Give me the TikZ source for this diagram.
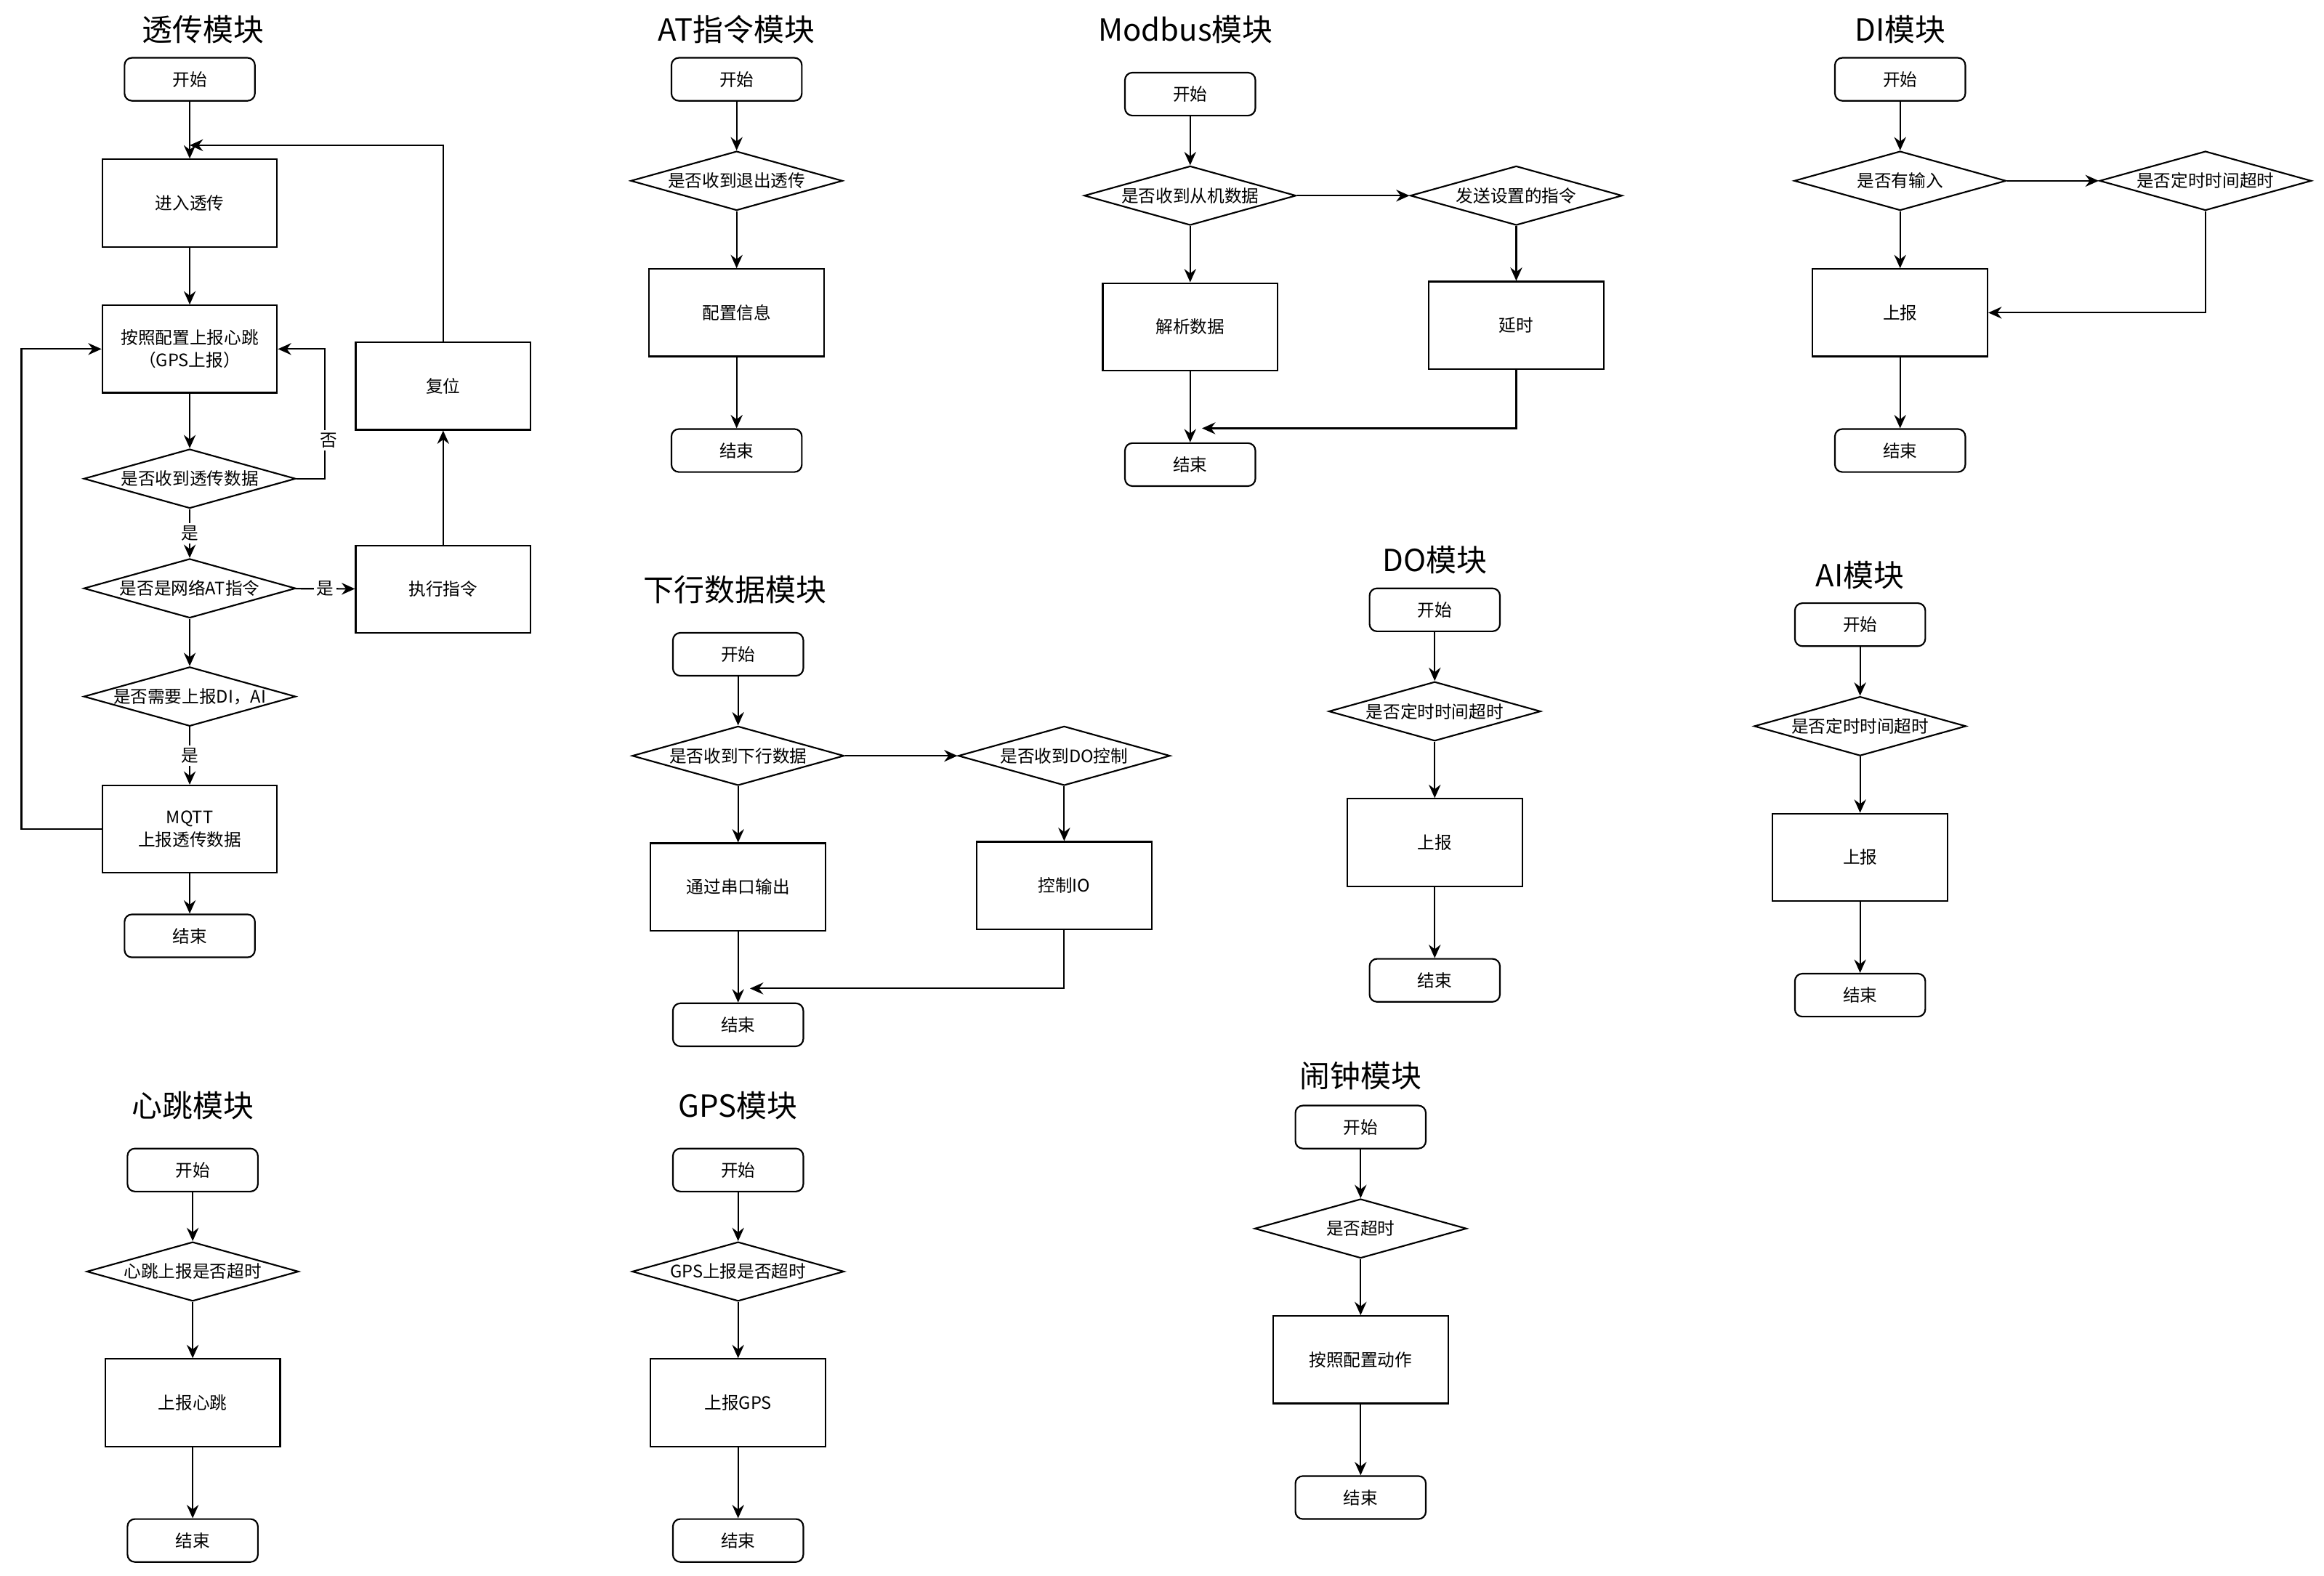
\documentclass[tikz,border=0pt]{standalone}
\usepackage{fontspec}
\setmainfont{Noto Sans CJK SC}
\usepackage{tikz}
\usetikzlibrary{shapes.geometric,arrows.meta,positioning}
\newcommand{\nw}[1]{\makebox[0pt]{#1}}

\begin{document}
\begin{tikzpicture}[x=0.02cm,y=-0.02cm,line width=0.6pt,
	ttl/.style={font=\fontsize{11.7pt}{14pt}\selectfont},
	term/.style={draw,rounded corners=0.1cm,minimum width=1.76cm,minimum height=0.58cm,font=\fontsize{6.6pt}{8pt}\selectfont},
	proc/.style={draw,minimum width=2.36cm,minimum height=1.18cm,align=center,font=\fontsize{6.6pt}{8.6pt}\selectfont},
	dec/.style={draw,diamond,aspect=3.5,inner sep=0pt,minimum width=2.86cm,minimum height=0.8cm,font=\fontsize{6.6pt}{8pt}\selectfont},
	lbl/.style={fill=white,inner sep=1pt,font=\fontsize{6.6pt}{8pt}\selectfont},
	arr/.style={-{Stealth[length=1.8mm,width=1.6mm,inset=0.6mm]}}]
	\useasboundingbox (0,0) rectangle (1568,1063);

	% 透传模块
	\node[ttl] (tt0) at (137,20) {透传模块};
	\node[term] (ts) at (128,53.5) {开始};
	\node[proc] (tin) at (128,137) {进入透传};
	\node[proc] (thb) at (128,235.5) {按照配置上报心跳\\（GPS上报）};
	\node[dec] (td1) at (128,323) {\nw{是否收到透传数据}};
	\node[dec] (td2) at (128,397) {\nw{是否是网络AT指令}};
	\node[dec] (td3) at (128,470) {\nw{是否需要上报DI，AI}};
	\node[proc] (tmq) at (128,559.5) {MQTT\\上报透传数据};
	\node[term] (te) at (128,631.5) {结束};
	\node[proc] (tex) at (299,397.5) {执行指令};
	\node[proc] (trs) at (299,260.5) {复位};
	\coordinate (tj) at (128,98);
	\draw[arr] (ts) -- (tin);
	\draw[arr] (tin) -- (thb);
	\draw[arr] (thb) -- (td1);
	\draw[arr] (td1) -- node[lbl] (ty1) {是} (td2);
	\draw[arr] (td2) -- (td3);
	\draw[arr] (td3) -- node[lbl] (ty2) {是} (tmq);
	\draw[arr] (tmq) -- (te);
	\draw[arr] (td2) -- node[lbl] (ty3) {是} (tex);
	\draw[arr] (tex) -- (trs);
	\draw[arr] (trs.north) |- (tj);
	\draw[arr] (td1.east) -- ++(19,0) |- (thb.east);
	\node[lbl] (tno) at (222,297) {否};
	\draw[arr] (tmq.west) -- ++(-54,0) |- (thb.west);

	% AT指令模块
	\node[ttl] (at0) at (497,20) {AT指令模块};
	\node[term] (as) at (497,53.5) {开始};
	\node[dec] (ad) at (497,122) {\nw{是否收到退出透传}};
	\node[proc] (ac) at (497,211) {配置信息};
	\node[term] (ae) at (497,304) {结束};
	\draw[arr] (as) -- (ad);
	\draw[arr] (ad) -- (ac);
	\draw[arr] (ac) -- (ae);

	% Modbus模块
	\node[ttl] (mb0) at (800,20) {Modbus模块};
	\node[term] (ms) at (803,63.5) {开始};
	\node[dec] (md1) at (803,132) {\nw{是否收到从机数据}};
	\node[dec] (md2) at (1023,132) {\nw{发送设置的指令}};
	\node[proc] (mp) at (803,220.5) {解析数据};
	\node[proc] (mw) at (1023,219.5) {延时};
	\node[term] (me) at (803,313.5) {结束};
	\coordinate (mj) at (811,289);
	\draw[arr] (ms) -- (md1);
	\draw[arr] (md1) -- (mp);
	\draw[arr] (mp) -- (me);
	\draw[arr] (md1) -- (md2);
	\draw[arr] (md2) -- (mw);
	\draw[arr] (mw.south) |- (mj);

	% DI模块
	\node[ttl] (di0) at (1282,20) {DI模块};
	\node[term] (ds) at (1282,53.5) {开始};
	\node[dec] (dd1) at (1282,122) {\nw{是否有输入}};
	\node[dec] (dd2) at (1488,122) {\nw{是否定时时间超时}};
	\node[proc] (dr) at (1282,211) {上报};
	\node[term] (de) at (1282,304) {结束};
	\draw[arr] (ds) -- (dd1);
	\draw[arr] (dd1) -- (dr);
	\draw[arr] (dr) -- (de);
	\draw[arr] (dd1) -- (dd2);
	\draw[arr] (dd2.south) |- (dr.east);

	% 下行数据模块
	\node[ttl] (xx0) at (496,398) {下行数据模块};
	\node[term] (xs) at (498,441.5) {开始};
	\node[dec] (xd1) at (498,510) {\nw{是否收到下行数据}};
	\node[dec] (xd2) at (718,510) {\nw{是否收到DO控制}};
	\node[proc] (xo) at (498,598.5) {通过串口输出};
	\node[proc] (xio) at (718,597.5) {控制IO};
	\node[term] (xe) at (498,691.5) {结束};
	\coordinate (xj) at (506,667);
	\draw[arr] (xs) -- (xd1);
	\draw[arr] (xd1) -- (xo);
	\draw[arr] (xo) -- (xe);
	\draw[arr] (xd1) -- (xd2);
	\draw[arr] (xd2) -- (xio);
	\draw[arr] (xio.south) |- (xj);

	% DO, AI, 心跳, GPS, 闹钟
	\foreach \n/\x/\y/\ty/\ti/\q/\r in {do/968/411.5/378/DO模块/是否定时时间超时/上报,
		ai/1255/421.5/388/AI模块/是否定时时间超时/上报,
		hb/130/789.5/746/心跳模块/心跳上报是否超时/上报心跳,
		gp/498/789.5/746/GPS模块/GPS上报是否超时/上报GPS,
		al/918/760.5/726/闹钟模块/是否超时/按照配置动作}
	{
		\node[ttl] (t\n) at (\x,\ty) {\ti};
		\node[term] (s\n) at (\x,\y) {开始};
		\node[dec] (d\n) at (\x,\y+68.5) {\nw{\q}};
		\node[proc] (p\n) at (\x,\y+157) {\r};
		\node[term] (e\n) at (\x,\y+250) {结束};
		\draw[arr] (s\n) -- (d\n);
		\draw[arr] (d\n) -- (p\n);
		\draw[arr] (p\n) -- (e\n);
	}
\end{tikzpicture}
\end{document}
